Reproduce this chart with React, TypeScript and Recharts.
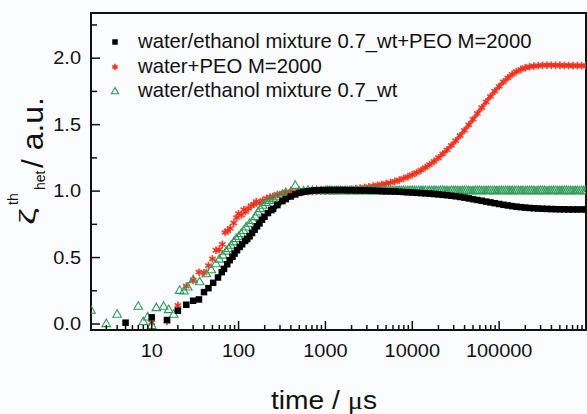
import React from 'react';
import { ScatterChart, Scatter, XAxis, YAxis, ReferenceArea } from 'recharts';

const FONT = '"Liberation Sans", Arial, Helvetica, sans-serif';
const INK = '#111111';
const RED = '#f2321e';
const GREEN = '#2f9a5a';

// early (sparse) points, time in µs
const blackEarlyTime = [5, 10, 15, 20, 25, 30, 35, 40, 45, 51, 58, 64, 68, 74, 79, 85, 90, 96, 103, 110, 119, 126, 134, 143, 153, 163, 174, 186, 199, 218, 238];
const blackEarlyValue = [0.01, 0.05, 0.03, 0.1, 0.145, 0.175, 0.185, 0.24, 0.27, 0.31, 0.35, 0.39, 0.415, 0.45, 0.48, 0.505, 0.53, 0.555, 0.58, 0.6, 0.625, 0.64, 0.66, 0.685, 0.71, 0.735, 0.757, 0.785, 0.807, 0.835, 0.857];

const redEarlyTime = [10, 15, 20, 25, 30, 35, 40, 45, 50, 55, 60, 65, 70, 75, 80, 88, 95, 100, 108, 115, 120, 130, 140, 150, 160, 175, 190, 210, 230];
const redEarlyValue = [0.01, 0.02, 0.14, 0.285, 0.33, 0.39, 0.385, 0.44, 0.49, 0.555, 0.56, 0.6, 0.69, 0.7, 0.72, 0.76, 0.8, 0.83, 0.82, 0.86, 0.845, 0.87, 0.89, 0.9, 0.92, 0.91, 0.93, 0.945, 0.955];

const greenEarlyTime = [2, 3, 4, 7, 8, 9, 10, 11.3, 13.7, 15.7, 17.9, 21, 23.5, 26, 30, 35.6, 42.5, 48.5, 55, 60, 66, 72, 77, 82, 88, 94, 100, 107, 114, 122, 134, 146, 156, 167, 178, 190, 208, 227, 250, 280, 320, 350, 400, 450, 500, 560, 630, 710, 790, 890];
const greenEarlyValue = [0.105, 0.005, 0.075, 0.135, 0.02, 0.055, -0.01, 0.125, 0.135, 0.11, 0.075, 0.255, 0.25, 0.28, 0.335, 0.32, 0.38, 0.41, 0.455, 0.49, 0.52, 0.55, 0.57, 0.594, 0.62, 0.644, 0.66, 0.682, 0.705, 0.732, 0.76, 0.78, 0.81, 0.844, 0.87, 0.895, 0.915, 0.932, 0.945, 0.958, 0.975, 0.99, 0.998, 1.045, 1.0, 1.003, 1.008, 1.005, 1.006, 1.004];

// dense part of the records (black and red share this time grid)
const denseTime = [
  250, 280, 320, 350, 400, 450, 500, 560, 630, 710,
  790, 890, 1000, 1120, 1260, 1410, 1580, 1780, 2000, 2240,
  2510, 2820, 3160, 3550, 3980, 4470, 5010, 5620, 6310, 7080,
  7940, 8910, 10000, 11200, 12600, 14100, 15800, 17800, 20000, 22400,
  25100, 28200, 31600, 35500, 39800, 44700, 50100, 56200, 63100, 70800,
  79400, 89100, 100000, 112000, 126000, 141000, 158000, 178000, 200000, 224000,
  251000, 282000, 316000, 355000, 398000, 447000, 501000, 562000, 631000, 708000,
  794000, 891000, 1000000,
];
const blackDense = [
  0.866, 0.895, 0.925, 0.94, 0.96, 0.975, 0.987, 0.995, 1.0, 1.004,
  1.006, 1.008, 1.008, 1.008, 1.008, 1.008, 1.008, 1.007, 1.007, 1.006,
  1.005, 1.005, 1.004, 1.003, 1.002, 1.0, 0.999, 0.998, 0.997, 0.995,
  0.993, 0.991, 0.989, 0.987, 0.985, 0.983, 0.981, 0.978, 0.975, 0.972,
  0.969, 0.965, 0.961, 0.956, 0.951, 0.945, 0.939, 0.933, 0.927, 0.921,
  0.915, 0.909, 0.903, 0.897, 0.892, 0.887, 0.883, 0.879, 0.876, 0.873,
  0.871, 0.869, 0.867, 0.866, 0.865, 0.864, 0.863, 0.863, 0.862, 0.862,
  0.862, 0.862, 0.862,
];
const redDense = [
  0.96, 0.975, 0.985, 0.99, 0.995, 0.993, 0.99, 0.992, 0.995, 0.997,
  0.999, 1.0, 1.0, 1.001, 1.003, 1.005, 1.008, 1.011, 1.015, 1.019,
  1.023, 1.028, 1.033, 1.038, 1.044, 1.05, 1.057, 1.064, 1.073, 1.083,
  1.095, 1.108, 1.123, 1.139, 1.157, 1.177, 1.199, 1.224, 1.251, 1.28,
  1.311, 1.344, 1.379, 1.417, 1.457, 1.498, 1.541, 1.584, 1.628, 1.672,
  1.713, 1.752, 1.788, 1.822, 1.852, 1.878, 1.899, 1.916, 1.928, 1.936,
  1.941, 1.944, 1.946, 1.947, 1.947, 1.946, 1.946, 1.945, 1.945, 1.944,
  1.944, 1.944, 1.944,
];

// green record after 1 ms is sampled finer (its band is a tight hatch)
const greenLateTime = [
  1000, 1060, 1120, 1190, 1260, 1330, 1410, 1500, 1580, 1680,
  1780, 1880, 2000, 2110, 2240, 2370, 2510, 2660, 2820, 2990,
  3160, 3350, 3550, 3760, 3980, 4220, 4470, 4730, 5010, 5310,
  5620, 5960, 6310, 6680, 7080, 7500, 7940, 8410, 8910, 9440,
  10000, 10600, 11200, 11900, 12600, 13300, 14100, 15000, 15800, 16800,
  17800, 18800, 20000, 21100, 22400, 23700, 25100, 26600, 28200, 29900,
  31600, 33500, 35500, 37600, 39800, 42200, 44700, 47300, 50100, 53100,
  56200, 59600, 63100, 66800, 70800, 75000, 79400, 84100, 89100, 94400,
  100000, 106000, 112000, 119000, 126000, 133000, 141000, 150000, 158000, 168000,
  178000, 188000, 200000, 211000, 224000, 237000, 251000, 266000, 282000, 299000,
  316000, 335000, 355000, 376000, 398000, 422000, 447000, 473000, 501000, 531000,
  562000, 596000, 631000, 668000, 708000, 750000, 794000, 841000, 891000, 944000,
  1000000,
];
const greenLateValue = [
  1.006, 1.005, 1.007, 1.005, 1.004, 1.006, 1.005, 1.006, 1.004, 1.005,
  1.006, 1.005, 1.005, 1.004, 1.006, 1.005, 1.005, 1.006, 1.004, 1.005,
  1.006, 1.005, 1.004, 1.005, 1.006, 1.005, 1.005, 1.004, 1.006, 1.005,
  1.005, 1.006, 1.004, 1.005, 1.005, 1.006, 1.005, 1.004, 1.005, 1.006,
  1.005, 1.005, 1.004, 1.006, 1.005, 1.005, 1.006, 1.004, 1.005, 1.005,
  1.006, 1.005, 1.004, 1.005, 1.006, 1.005, 1.005, 1.004, 1.006, 1.005,
  1.005, 1.006, 1.004, 1.005, 1.005, 1.006, 1.005, 1.004, 1.005, 1.006,
  1.005, 1.005, 1.004, 1.006, 1.005, 1.005, 1.006, 1.004, 1.005, 1.005,
  1.006, 1.005, 1.004, 1.005, 1.006, 1.005, 1.005, 1.004, 1.006, 1.005,
  1.005, 1.006, 1.004, 1.005, 1.005, 1.006, 1.005, 1.004, 1.005, 1.006,
  1.005, 1.005, 1.004, 1.006, 1.005, 1.005, 1.006, 1.004, 1.005, 1.005,
  1.006, 1.005, 1.004, 1.005, 1.006, 1.005, 1.005, 1.004, 1.006, 1.005,
  1.005,
];

const LEGEND = [
  'water/ethanol mixture 0.7_wt+PEO M=2000',
  'water+PEO M=2000',
  'water/ethanol mixture 0.7_wt',
];

const X_DOMAIN = [2, 1000000];
const X_DECADES = [1, 10, 100, 1000, 10000, 100000];
const X_TICKS = X_DECADES.flatMap((d) => [1, 2, 3, 4, 5, 6, 7, 8, 9].map((m) => m * d))
  .filter((t) => t >= 2)
  .concat([1000000]);
const X_LABELS = [10, 100, 1000, 10000, 100000];
const X_MAJOR = [10, 100, 1000, 10000, 100000, 1000000];

const Y_DOMAIN = [-0.045, 2.34];
const Y_TICKS = [0, 0.25, 0.5, 0.75, 1, 1.25, 1.5, 1.75, 2, 2.25];
const Y_LABELS = ['0.0', '0.5', '1.0', '1.5', '2.0'];

const pairs = (ts: number[], vs: number[]) =>
  ts.map((t, i) => ({ t, v: vs[i] })).filter((d) => d.v !== undefined);

// ---------------------------------------------------------------------------
// markers
// ---------------------------------------------------------------------------

const Square = ({ cx, cy, s = 6.5 }: any) => (
  <rect x={cx - s / 2} y={cy - s / 2} width={s} height={s} fill="#000" />
);

const Star = ({ cx, cy, r = 3.8 }: any) => (
  <g stroke={RED} strokeWidth={1.7} strokeOpacity={0.9}>
    {[90, 30, 150].map((a) => {
      const dx = r * Math.cos((a * Math.PI) / 180);
      const dy = r * Math.sin((a * Math.PI) / 180);
      return <line key={a} x1={cx - dx} y1={cy - dy} x2={cx + dx} y2={cy + dy} />;
    })}
    <circle cx={cx} cy={cy} r={1.5} fill={RED} stroke="none" />
  </g>
);

const Triangle = ({ cx, cy, s = 4.3 }: any) => (
  <polygon
    points={`${cx},${cy - s} ${cx - s},${cy + s * 0.75} ${cx + s},${cy + s * 0.75}`}
    fill="none"
    stroke={GREEN}
    strokeWidth={1.1}
  />
);

// ---------------------------------------------------------------------------
// ticks (inward, drawn on all four sides)
// ---------------------------------------------------------------------------

const BottomTick = ({ x, y, payload }: any) => {
  const v = payload.value;
  const major = X_MAJOR.includes(v);
  return (
    <g>
      <line x1={x} x2={x} y1={y} y2={y - (major ? 9 : 5)} stroke={INK} strokeWidth={1.5} />
      {X_LABELS.includes(v) && (
        <g transform={`translate(${x},${y + 27}) scale(1.14,1)`}>
          <text x={0} y={0} textAnchor="middle" fontSize={17.5} fontFamily={FONT} fill={INK}>
            {String(v)}
          </text>
        </g>
      )}
    </g>
  );
};

const TopTick = ({ x, y, payload }: any) => {
  const major = X_MAJOR.includes(payload.value);
  return <line x1={x} x2={x} y1={y} y2={y + (major ? 9 : 5)} stroke={INK} strokeWidth={1.5} />;
};

const LeftTick = ({ x, y, payload, index }: any) => {
  const v = payload.value;
  const major = index % 2 === 0;
  return (
    <g>
      <line x1={x} x2={x + (major ? 9 : 6)} y1={y} y2={y} stroke={INK} strokeWidth={1.5} />
      {major && (
        <g transform={`translate(${x - 10},${y + 6}) scale(1.14,1)`}>
          <text x={0} y={0} textAnchor="end" fontSize={17.5} fontFamily={FONT} fill={INK}>
            {Y_LABELS[Y_TICKS.indexOf(v) / 2]}
          </text>
        </g>
      )}
    </g>
  );
};

const RightTick = ({ x, y, index }: any) => (
  <line x1={x} x2={x - (index % 2 === 0 ? 9 : 6)} y1={y} y2={y} stroke={INK} strokeWidth={1.5} />
);

// ---------------------------------------------------------------------------
// main component
// ---------------------------------------------------------------------------

const App: React.FC = () => {
  const frame = { stroke: INK, strokeWidth: 2 };
  return (
    <div style={{ position: 'absolute', left: 0, top: 0, width: 587, height: 414, background: '#fbfcfe' }}>
      <ScatterChart width={587} height={414} margin={{ top: 13, right: 1, bottom: 0, left: 0 }}>
        <XAxis
          dataKey="t"
          type="number"
          scale="log"
          domain={X_DOMAIN}
          allowDataOverflow
          ticks={X_TICKS}
          interval={0}
          height={84}
          tickSize={0}
          tickMargin={0}
          tickLine={false}
          axisLine={frame}
          tick={(p: any) => <BottomTick {...p} />}
        />
        <XAxis
          xAxisId="top"
          orientation="top"
          dataKey="t"
          type="number"
          scale="log"
          domain={X_DOMAIN}
          allowDataOverflow
          ticks={X_TICKS}
          interval={0}
          height={0}
          tickSize={0}
          tickMargin={0}
          tickLine={false}
          axisLine={frame}
          tick={(p: any) => <TopTick {...p} />}
        />
        <YAxis
          dataKey="v"
          type="number"
          domain={Y_DOMAIN}
          allowDataOverflow
          ticks={Y_TICKS}
          interval={0}
          width={91}
          tickSize={0}
          tickMargin={0}
          tickLine={false}
          axisLine={frame}
          tick={(p: any) => <LeftTick {...p} />}
        />
        <YAxis
          yAxisId="right"
          orientation="right"
          dataKey="v"
          type="number"
          domain={Y_DOMAIN}
          allowDataOverflow
          ticks={Y_TICKS}
          interval={0}
          width={0}
          tickSize={0}
          tickMargin={0}
          tickLine={false}
          axisLine={frame}
          tick={(p: any) => <RightTick {...p} />}
        />

        <Scatter
          data={pairs(redEarlyTime, redEarlyValue)}
          shape={(p: any) => <Star {...p} />}
          isAnimationActive={false}
        />
        <Scatter
          data={pairs(denseTime, redDense)}
          line={{ stroke: RED, strokeWidth: 3.5, strokeOpacity: 0.85 }}
          lineType="joint"
          shape={(p: any) => <Star {...p} />}
          isAnimationActive={false}
        />
        <Scatter
          data={pairs(greenEarlyTime, greenEarlyValue)}
          shape={(p: any) => <Triangle {...p} />}
          isAnimationActive={false}
        />
        <Scatter
          data={pairs(greenLateTime, greenLateValue)}
          shape={(p: any) => <Triangle {...p} />}
          isAnimationActive={false}
        />
        <Scatter
          data={pairs(blackEarlyTime, blackEarlyValue)}
          shape={(p: any) => <Square {...p} />}
          isAnimationActive={false}
        />
        <Scatter
          data={pairs(denseTime, blackDense)}
          line={{ stroke: '#000', strokeWidth: 5 }}
          lineType="joint"
          shape={(p: any) => <Square {...p} />}
          isAnimationActive={false}
        />

        {/* closed frame round the plot area */}
        <ReferenceArea
          x1={X_DOMAIN[0]}
          x2={X_DOMAIN[1]}
          y1={Y_DOMAIN[0]}
          y2={Y_DOMAIN[1]}
          fill="none"
          fillOpacity={0}
          stroke={INK}
          strokeWidth={2}
          ifOverflow="visible"
        />
      </ScatterChart>

      {/* legend and axis titles */}
      <svg
        width={587}
        height={414}
        style={{ position: 'absolute', left: 0, top: 0, pointerEvents: 'none' }}
        fontFamily={FONT}
        fill={INK}
      >
        <Square cx={115} cy={42} s={5.5} />
        <Star cx={115} cy={67} r={3.2} />
        <Triangle cx={115} cy={91} s={3.6} />
        {LEGEND.map((label, i) => (
          <text key={label} x={138} y={48 + i * 24.5} fontSize={20.3}>
            {label}
          </text>
        ))}

        <text x={271} y={409} fontSize={26} textLength={106} lengthAdjust="spacingAndGlyphs">
          time / <tspan fontFamily="'Liberation Serif', serif">μ</tspan>s
        </text>

        <g transform="translate(43,225) rotate(-90)">
          <text x={0} y={-8} fontSize={22} textLength={17} lengthAdjust="spacingAndGlyphs">ζ</text>
          <text x={20} y={-25} fontSize={14}>th</text>
          <text x={35} y={2} fontSize={14}>het</text>
          <text x={57} y={0} fontSize={30} textLength={71} lengthAdjust="spacingAndGlyphs">/ a.u.</text>
        </g>
      </svg>
    </div>
  );
};

export default App;
